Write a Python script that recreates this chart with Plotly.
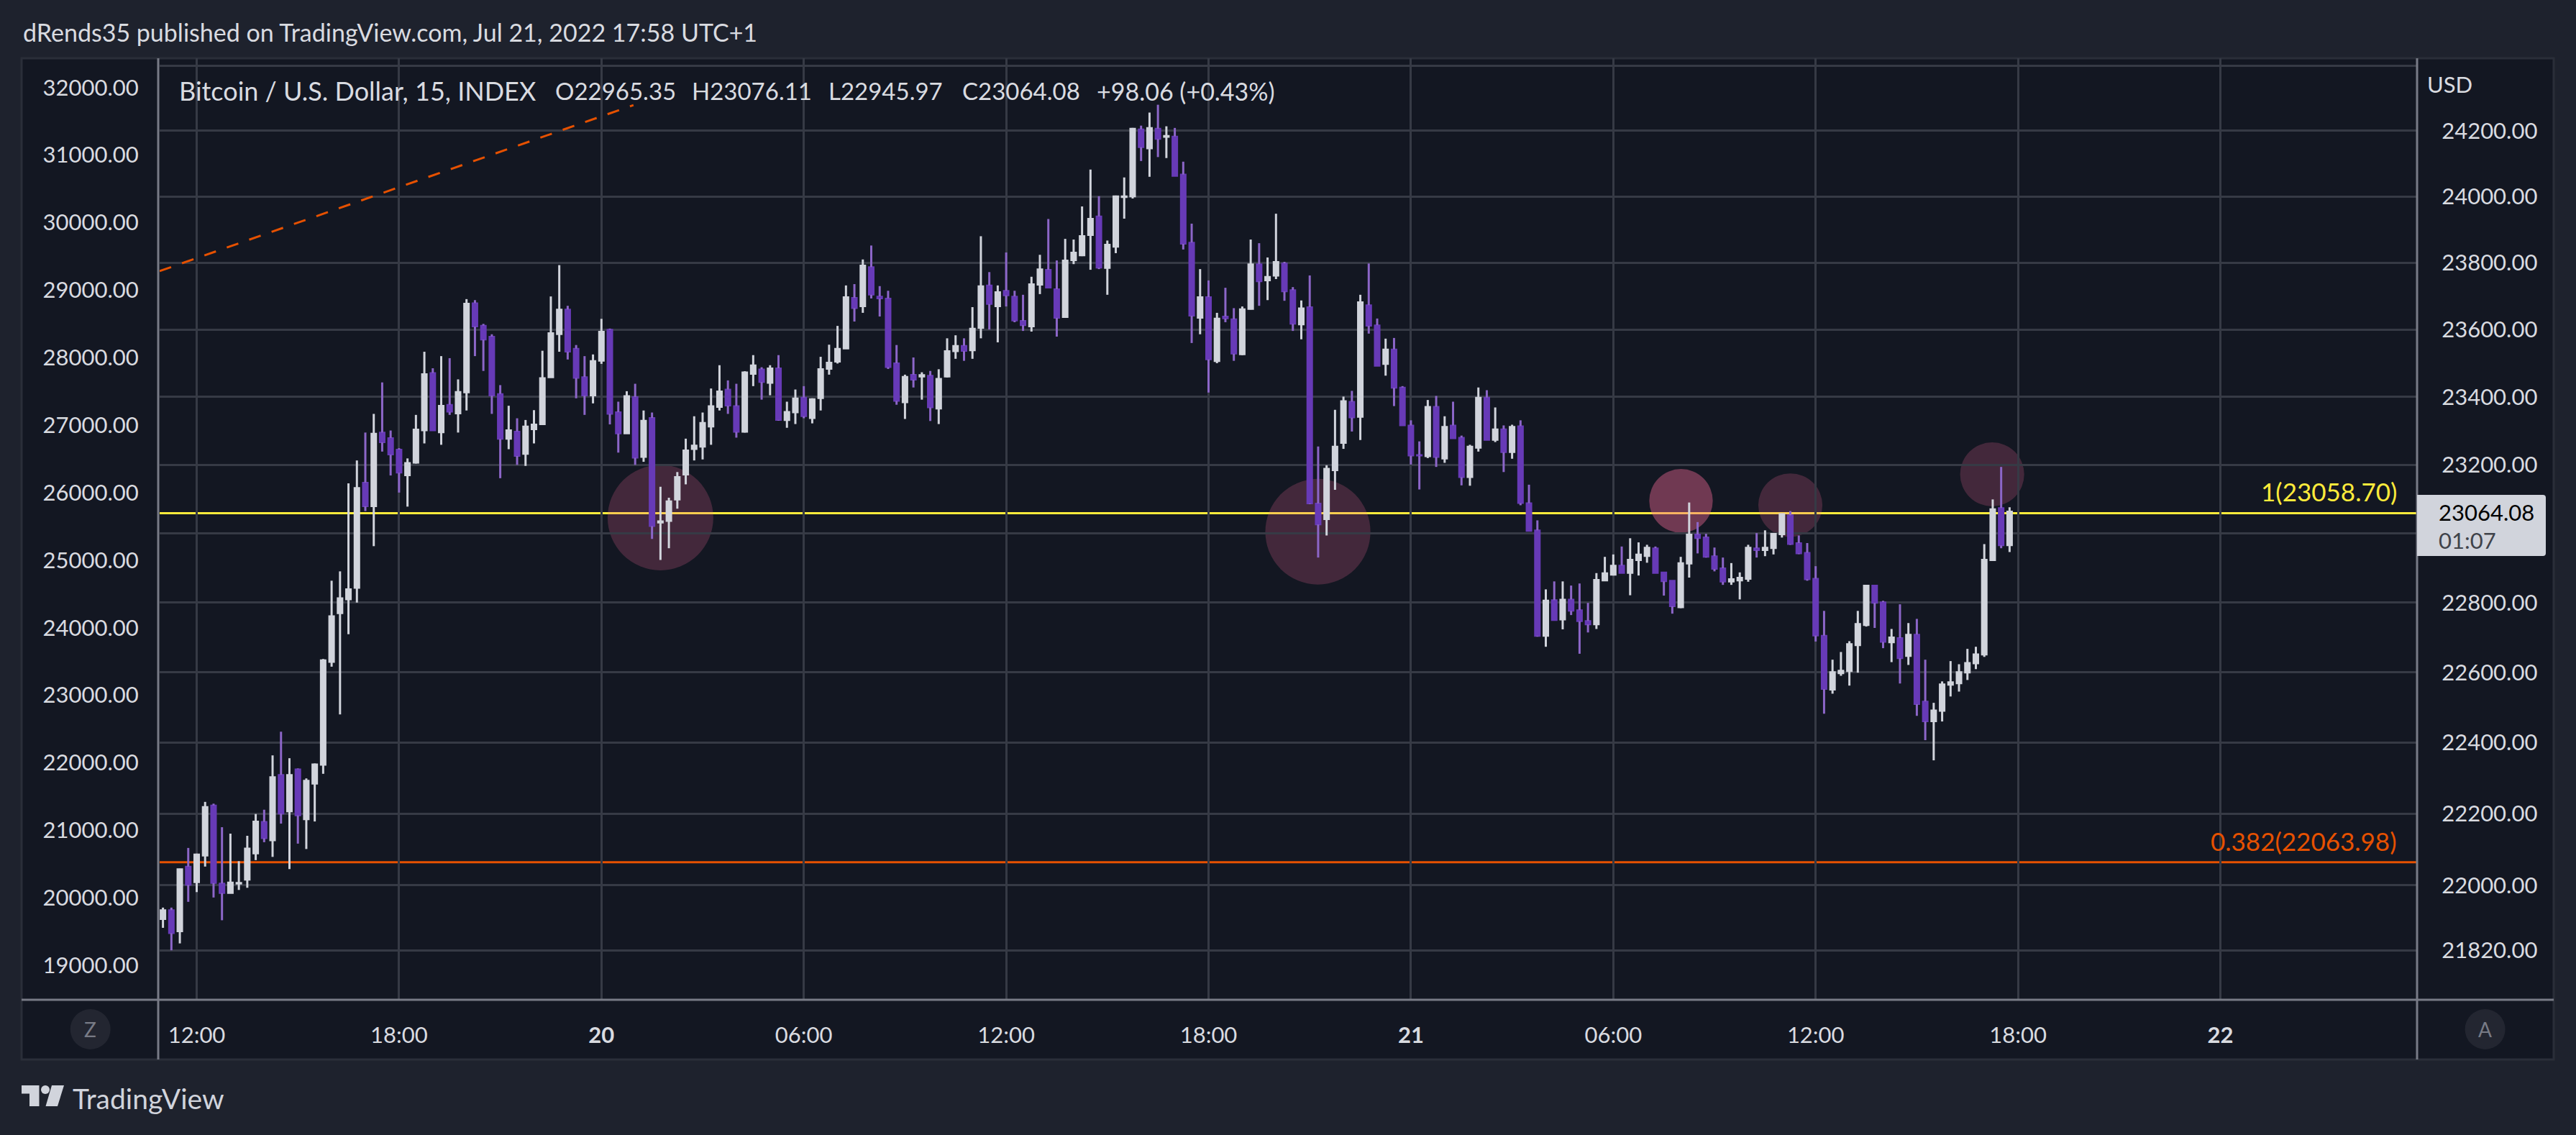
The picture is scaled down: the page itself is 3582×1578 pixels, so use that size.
import math
import pandas as pd
import plotly.graph_objects as go

W, H = 3582, 1578
BG, PANEL, GRID, AXIS = "#1e222d", "#131722", "#363a45", "#787b86"
WHITE, PURPLE, PURPLE_WICK, TEXT = "#d1d4dc", "#673ab7", "#8c66c8", "#d9dbe0"
YELLOW, ORANGE = "#ffeb3b", "#e65100"
FONT = "Lato"

times = pd.date_range("2022-07-19 11:00", periods=220, freq="15min")

high = [21938,21938,22046,22104,22088,22233,22228,22162,22144,22067,
22138,22199,22211,22364,22431,22356,22327,22299,22341,22638,
22863,22890,23146,23213,23295,23350,23443,23301,23249,23219,
23347,23534,23485,23521,23515,23452,23691,23688,23617,23586,
23435,23374,23337,23332,23361,23537,23699,23793,23671,23554,
23521,23526,23632,23603,23386,23417,23439,23360,23354,23136,
23104,23179,23277,23343,23354,23425,23494,23449,23439,23476,
23524,23488,23494,23524,23386,23422,23432,23396,23519,23555,
23611,23732,23736,23810,23852,23730,23716,23554,23466,23517,
23473,23477,23482,23574,23583,23574,23667,23880,23772,23732,
23831,23716,23704,23758,23824,23932,23807,23872,23870,23970,
24082,24001,23867,24003,24058,24209,24216,24256,24280,24214,
24209,24106,23918,23781,23747,23650,23725,23664,23669,23870,
23859,23816,23948,23803,23727,23687,23762,23254,23199,23362,
23401,23418,23704,23798,23633,23573,23575,23432,23331,23269,
23391,23403,23343,23386,23286,23259,23428,23420,23369,23316,
23318,23331,23142,23038,22838,22861,22861,22849,22855,22799,
22885,22932,22939,22962,22986,22974,22967,22962,22887,22863,
22932,23090,23033,22999,22959,22930,22914,22887,22967,23001,
23009,22999,23058,23065,22994,22972,22905,22776,22636,22658,
22689,22776,22851,22849,22805,22724,22795,22741,22753,22636,
22513,22574,22632,22623,22667,22673,22969,23099,23194,23076.11]

low = [21882,21820,21839,21954,21981,22052,21966,21903,21978,21987,
21993,22070,22120,22079,22172,22045,22116,22101,22178,22312,
22616,22480,22709,22800,23065,22963,23239,23169,23119,23078,
23204,23263,23301,23259,23347,23295,23360,23521,23477,23350,
23161,23246,23200,23197,23263,23319,23458,23534,23511,23396,
23347,23381,23498,23319,23236,23292,23200,23209,22984,22923,
22957,23072,23143,23213,23216,23259,23360,23350,23280,23295,
23432,23392,23405,23330,23309,23320,23337,23322,23360,23466,
23499,23543,23624,23650,23693,23639,23483,23377,23335,23428,
23392,23329,23320,23458,23513,23507,23513,23574,23600,23562,
23669,23622,23596,23594,23706,23725,23579,23637,23796,23820,
23779,23781,23704,23829,23933,23994,24108,24060,24120,24117,
24062,23840,23560,23586,23413,23500,23622,23507,23524,23660,
23671,23688,23751,23686,23596,23571,23085,22930,22994,23127,
23247,23298,23273,23588,23492,23463,23373,23316,23201,23128,
23220,23194,23206,23278,23140,23139,23239,23273,23267,23179,
23218,23082,23007,22702,22673,22749,22723,22764,22653,22714,
22724,22863,22878,22885,22821,22878,22915,22885,22820,22768,
22784,22872,22942,22930,22890,22851,22851,22809,22860,22930,
22934,22939,22988,22967,22940,22863,22688,22482,22539,22590,
22562,22599,22731,22727,22669,22629,22568,22621,22476,22407,
22350,22460,22531,22545,22578,22609,22644,22922,22957,22945.97]

open_ = [21906,21931,21872,22052,22008,22082,22223,22005,21978,22004,
22015,22088,22177,22125,22309,22206,22325,22184,22284,22337,
22629,22769,22809,22842,23148,23079,23295,23279,23245,23169,
23206,23301,23471,23295,23377,23351,23413,23679,23612,23579,
23409,23276,23298,23232,23304,23319,23458,23586,23660,23543,
23459,23404,23507,23600,23355,23292,23400,23223,23338,23031,
23036,23098,23171,23246,23253,23312,23370,23422,23373,23297,
23468,23482,23441,23485,23331,23354,23398,23337,23396,23483,
23504,23543,23695,23669,23787,23699,23693,23500,23384,23466,
23460,23463,23365,23460,23535,23552,23538,23605,23732,23669,
23716,23699,23626,23609,23734,23779,23721,23637,23807,23822,
23883,23940,23784,23848,23998,24000,24205,24146,24207,24181,
24183,24067,23861,23635,23697,23506,23639,23631,23526,23661,
23796,23747,23761,23798,23718,23615,23667,23087,23041,23184,
23264,23386,23341,23673,23613,23497,23541,23428,23316,23229,
23225,23371,23218,23316,23280,23164,23250,23398,23273,23305,
23237,23314,23088,23009,22704,22807,22751,22809,22778,22747,
22737,22863,22880,22907,22885,22922,22934,22957,22887,22863,
22786,22912,22997,22989,22934,22899,22860,22863,22868,22957,
22951,22957,22997,23053,22972,22944,22869,22705,22550,22597,
22603,22677,22735,22849,22801,22685,22698,22646,22708,22517,
22460,22490,22564,22568,22599,22625,22650,22922,23074,22965.35]

close = [21931,21867,22045,22001,22086,22219,22006,21978,22008,22007,
22103,22178,22131,22303,22200,22309,22195,22293,22339,22635,
22761,22813,22839,23133,23079,23292,23266,23230,23177,23206,
23304,23468,23301,23374,23356,23415,23678,23609,23570,23404,
23276,23302,23226,23313,23319,23456,23590,23660,23534,23456,
23404,23507,23594,23350,23292,23403,23221,23330,23021,23036,
23094,23165,23243,23257,23324,23373,23417,23374,23297,23473,
23494,23444,23485,23332,23356,23396,23343,23394,23483,23502,
23543,23697,23664,23792,23704,23693,23488,23388,23460,23451,
23465,23369,23454,23536,23552,23536,23603,23730,23676,23712,
23702,23627,23613,23736,23781,23725,23635,23807,23831,23881,
23933,23785,23855,24001,24001,24207,24150,24209,24175,24185,
24062,23857,23641,23697,23511,23633,23633,23528,23661,23796,
23744,23758,23803,23714,23617,23664,23087,23026,23189,23254,
23388,23339,23682,23611,23492,23541,23427,23316,23227,23227,
23371,23223,23312,23278,23164,23254,23398,23273,23305,23237,
23312,23088,23007,22704,22806,22749,22809,22776,22746,22737,
22866,22885,22907,22885,22924,22939,22959,22885,22861,22789,
22914,22997,22986,22932,22897,22860,22868,22872,22959,22951,
22959,22999,23057,22969,22942,22867,22705,22552,22601,22605,
22681,22739,22849,22799,22687,22700,22640,22708,22509,22460,
22492,22566,22572,22601,22627,22652,22924,23071,22965,23064.08]

right_ticks = [24400,24200,24000,23800,23600,23400,23200,23000,22800,22600,22400,22200,22000,21820]
right_labels = ["","24200.00","24000.00","23800.00","23600.00","23400.00","23200.00","",
                "22800.00","22600.00","22400.00","22200.00","22000.00","21820.00"]
left_ticks = [32000,31000,30000,29000,28000,27000,26000,25000,24000,23000,22000,21000,20000,19000]
left_labels = [f"{v}.00" for v in left_ticks]
time_ticks = ["2022-07-19 12:00","2022-07-19 18:00","2022-07-20 00:00","2022-07-20 06:00","2022-07-20 12:00",
              "2022-07-20 18:00","2022-07-21 00:00","2022-07-21 06:00","2022-07-21 12:00","2022-07-21 18:00","2022-07-22 00:00"]
time_labels = ["12:00","18:00","<b>20</b>","06:00","12:00","18:00","<b>21</b>","06:00","12:00","18:00","<b>22</b>"]

level_prices = [23058.70, 22063.98]
level_colors = [YELLOW, ORANGE]
level_labels = ["1(23058.70)", "0.382(22063.98)"]

trend_times = ["2022-07-19 10:54", "2022-07-20 00:57"]
trend_prices = [23775, 24279]

circle_t0 = ["2022-07-20 00:11","2022-07-20 19:41","2022-07-21 07:04","2022-07-21 10:18","2022-07-21 16:17"]
circle_t1 = ["2022-07-20 03:19","2022-07-20 22:48","2022-07-21 08:57","2022-07-21 12:12","2022-07-21 18:11"]
circle_p0 = [23200,23159,23188,23175,23266]
circle_p1 = [22893,22852,23002,22990,23079]
circle_alpha = [0.22,0.22,0.42,0.22,0.22]

x_start, x_end = "2022-07-19 10:54:07", "2022-07-22 05:48:36"

def px(x): return x / W
def py(y): return 1 - y / H

def wick_segments(tops, bottoms, keep):
    xs, ys = [], []
    for t, a, b, k in zip(times, tops, bottoms, keep):
        if k:
            xs += [t, t, None]
            ys += [a, b, None]
    return xs, ys

body_top = [max(o, c) for o, c in zip(open_, close)]
body_bot = [min(o, c) for o, c in zip(open_, close)]
is_up = [c >= o for o, c in zip(open_, close)]
is_dn = [not u for u in is_up]

fig = go.Figure()

for keep, col in ((is_up, WHITE), (is_dn, PURPLE_WICK)):
    for tops, bots in ((high, body_top), (body_bot, low)):
        xs, ys = wick_segments(tops, bots, keep)
        fig.add_trace(go.Scatter(x=xs, y=ys, mode="lines", line=dict(color=col, width=3),
                                 hoverinfo="skip", showlegend=False, connectgaps=False))

fig.add_trace(go.Candlestick(
    x=times, open=open_, close=close, high=body_top, low=body_bot,
    increasing=dict(line=dict(color=WHITE, width=2), fillcolor=WHITE),
    decreasing=dict(line=dict(color=PURPLE, width=2), fillcolor=PURPLE),
    whiskerwidth=0, hoverinfo="skip", showlegend=False))

fig.add_trace(go.Scatter(x=trend_times, y=trend_prices, mode="lines",
                         line=dict(color=ORANGE, width=3, dash="17px,16px"),
                         hoverinfo="skip", showlegend=False))
fig.add_trace(go.Scatter(x=[times[0]], y=[left_ticks[0]], yaxis="y2", mode="markers",
                         marker=dict(opacity=0), hoverinfo="skip", showlegend=False))

shapes = []
shapes.append(dict(type="rect", xref="paper", yref="paper", x0=px(30), x1=px(3551), y0=py(1473), y1=py(81),
                   fillcolor=PANEL, line=dict(color="#2a2e39", width=3), layer="below"))
for y0, y1, x in ((81, 1473, 220), (81, 1473, 3361)):
    shapes.append(dict(type="line", xref="paper", yref="paper", x0=px(x), x1=px(x), y0=py(y0), y1=py(y1),
                       line=dict(color=AXIS, width=3), layer="above"))
shapes.append(dict(type="line", xref="paper", yref="paper", x0=px(30), x1=px(3551), y0=py(1390), y1=py(1390),
                   line=dict(color=AXIS, width=3), layer="above"))
for p, c in zip(level_prices, level_colors):
    shapes.append(dict(type="line", xref="x", yref="y", x0=x_start, x1=x_end, y0=p, y1=p,
                       line=dict(color=c, width=3), layer="below"))
for t0, t1, p0, p1, a in zip(circle_t0, circle_t1, circle_p0, circle_p1, circle_alpha):
    shapes.append(dict(type="circle", xref="x", yref="y", x0=t0, x1=t1, y0=p0, y1=p1,
                       fillcolor=f"rgba(240,105,150,{a})", line=dict(width=0), layer="below"))
for cx, cy in ((125.7, 1431), (3455.6, 1431)):
    shapes.append(dict(type="circle", xref="paper", yref="paper", x0=px(cx-28), x1=px(cx+28),
                       y0=py(cy+28), y1=py(cy-28), fillcolor="#232631", line=dict(width=0), layer="above"))
shapes.append(dict(type="path", xref="paper", yref="paper", layer="above", fillcolor=WHITE, line=dict(width=0),
    path=(f"M {px(3361)} {py(688)} L {px(3536)} {py(688)} Q {px(3540)} {py(688)} {px(3540)} {py(692)} "
          f"L {px(3540)} {py(769)} Q {px(3540)} {py(773)} {px(3536)} {py(773)} L {px(3361)} {py(773)} Z")))
logo = [
    [(30,1509),(54.5,1509),(54.5,1538),(41,1538),(41,1520.5),(30,1520.5)],
    [(72,1509),(89,1509),(80,1538),(63.5,1538)],
]
for poly in logo:
    d = "M " + " L ".join(f"{px(a)} {py(b)}" for a, b in poly) + " Z"
    shapes.append(dict(type="path", xref="paper", yref="paper", path=d, fillcolor=WHITE, line=dict(width=0), layer="above"))
shapes.append(dict(type="circle", xref="paper", yref="paper", x0=px(57), x1=px(69), y0=py(1521), y1=py(1509),
                   fillcolor=WHITE, line=dict(width=0), layer="above"))

def note(text, x, y, size=31, color=TEXT, anchor="left"):
    return dict(text=text, xref="paper", yref="paper", x=px(x), y=py(y), showarrow=False,
                xanchor=anchor, yanchor="middle", font=dict(family=FONT, size=size, color=color))

annotations = [
    note("dRends35 published on TradingView.com, Jul 21, 2022 17:58 UTC+1", 30, 45, size=34),
    note("Bitcoin / U.S. Dollar, 15, INDEX", 247, 126, size=36),
    note("O22965.35", 770, 126, size=33),
    note("H23076.11", 960, 126, size=33),
    note("L22945.97", 1150, 126, size=33),
    note("C23064.08", 1336, 126, size=33),
    note("+98.06 (+0.43%)", 1523, 126, size=34),
    note("USD", 3373, 117),
    note(level_labels[0], 3335, 683, size=35, color=YELLOW, anchor="right"),
    note(level_labels[1], 3335, 1169, size=35, color=ORANGE, anchor="right"),
    note("23064.08", 3389, 712, color="#000000"),
    note("01:07", 3389, 751, color="#40434a"),
    note("Z", 125.7, 1431, size=28, color=AXIS, anchor="center"),
    note("A", 3455.6, 1431, size=28, color=AXIS, anchor="center"),
    note("TradingView", 99, 1527, size=39, color=WHITE),
]

fig.update_layout(
    width=W, height=H, template="none", showlegend=False, hovermode=False,
    paper_bgcolor=BG, plot_bgcolor=PANEL, margin=dict(l=0, r=0, t=0, b=0),
    boxmode="overlay", boxgap=0.40, boxgroupgap=0, shapes=shapes, annotations=annotations,
    font=dict(family=FONT, size=31, color=TEXT),
    xaxis=dict(domain=[px(222), px(3360)], type="date", range=[x_start, x_end], tickmode="array",
               tickvals=time_ticks, ticktext=time_labels, showgrid=True, gridcolor=GRID, gridwidth=3,
               showline=False, zeroline=False, ticks="outside", ticklen=22, tickcolor="rgba(0,0,0,0)",
               rangeslider=dict(visible=False), tickfont=dict(family=FONT, size=31, color=TEXT)),
    yaxis=dict(domain=[py(1390), py(81)], type="log", side="right",
               range=[math.log10(21684), math.log10(24423)], tickmode="array",
               tickvals=right_ticks, ticktext=right_labels, showgrid=True, gridcolor=GRID, gridwidth=3,
               showline=False, zeroline=False, ticks="outside", ticklen=28, tickcolor="rgba(0,0,0,0)",
               tickfont=dict(family=FONT, size=31, color=TEXT)),
    yaxis2=dict(overlaying="y", side="left", type="linear", range=[18489, 32434], tickmode="array",
                tickvals=left_ticks, ticktext=left_labels, showgrid=False, showline=False, zeroline=False,
                ticks="outside", ticklen=22, tickcolor="rgba(0,0,0,0)",
                tickfont=dict(family=FONT, size=31, color=TEXT)),
)

fig.write_html("out.html", config=dict(displayModeBar=False),
               post_script="document.body.style.margin='0';document.body.style.overflow='hidden';")
